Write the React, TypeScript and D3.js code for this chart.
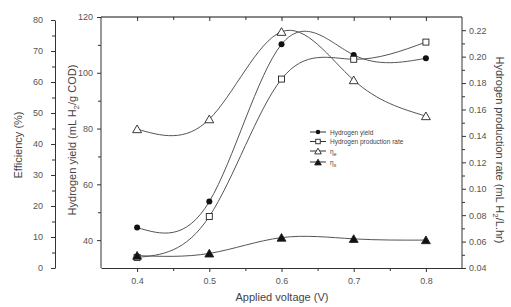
import * as d3 from "d3";
import { useEffect, useRef } from "react";

// applied voltage (V)
const voltages = [0.4, 0.5, 0.6, 0.7, 0.8];
// hydrogen yield (mL H2/g COD)
const hydrogenYield = [44.5, 53.8, 110.2, 106.4, 105.2];
// hydrogen production rate (mL H2/L.hr)
const productionRate = [0.048, 0.079, 0.183, 0.198, 0.211];
// efficiencies (%)
const etaE = [44.8, 48, 76.2, 60.6, 49];
const etaS = [4.0, 4.7, 9.8, 9.4, 9.0];

const xTicks = [0.4, 0.5, 0.6, 0.7, 0.8];
const effTicks = [0, 10, 20, 30, 40, 50, 60, 70, 80];
const yieldTicks = [40, 60, 80, 100, 120];
const rateTicks = [0.04, 0.06, 0.08, 0.1, 0.12, 0.14, 0.16, 0.18, 0.2, 0.22];

const FONT = "'Liberation Sans', Arial, sans-serif";

export default function App() {
  const svgRef = useRef<SVGSVGElement>(null);

  useEffect(() => {
    if (!svgRef.current) return;
    const svg = d3.select(svgRef.current);
    svg.selectAll("*").remove();

    const left = 101;
    const right = 462;
    const top = 17;
    const bottom = 268;

    const x = d3.scaleLinear().domain([0.35, 0.85]).range([left, right]);
    const yEff = d3.scaleLinear().domain([0, 80]).range([bottom, 20]);
    const yYield = d3.scaleLinear().domain([30, 120]).range([bottom, top]);
    const yRate = d3.scaleLinear().domain([0.04, 0.23]).range([bottom, top]);

    const tickColor = "#333";
    const labelColor = "#555";

    const style = (g: d3.Selection<SVGGElement, unknown, null, undefined>) => {
      g.selectAll("path").attr("stroke", tickColor);
      g.selectAll("line").attr("stroke", tickColor);
      g.selectAll("text")
        .attr("fill", labelColor)
        .style("font-family", FONT)
        .style("font-size", "9px");
    };

    // minor ticks
    const minor = (
      g: d3.Selection<SVGGElement, unknown, null, undefined>,
      axis: d3.Axis<d3.NumberValue>,
    ) => {
      g.call(axis);
      g.selectAll("path").remove();
      g.selectAll("text").remove();
      g.selectAll("line").attr("stroke", tickColor);
    };

    // bottom axis
    const gx = svg.append("g").attr("transform", `translate(0,${bottom})`);
    gx.call(
      d3.axisBottom(x).tickValues(xTicks).tickSize(4).tickSizeOuter(0).tickPadding(6).tickFormat(d3.format(".1f")),
    );
    style(gx);
    minor(
      svg.append("g").attr("transform", `translate(0,${bottom})`),
      d3.axisBottom(x).tickValues([0.45, 0.55, 0.65, 0.75]).tickSize(3).tickSizeOuter(0),
    );

    // top frame with inward ticks
    const gt = svg.append("g").attr("transform", `translate(0,${top})`);
    gt.call(d3.axisBottom(x).tickValues(xTicks).tickSize(4).tickSizeOuter(0).tickFormat(() => ""));
    gt.selectAll("line").attr("stroke", tickColor);
    gt.select("path").remove();
    minor(
      svg.append("g").attr("transform", `translate(0,${top})`),
      d3.axisBottom(x).tickValues([0.45, 0.55, 0.65, 0.75]).tickSize(3).tickSizeOuter(0),
    );
    svg.append("line").attr("x1", left).attr("x2", right).attr("y1", top).attr("y2", top).attr("stroke", "#111");

    // efficiency axis
    const ge = svg.append("g").attr("transform", "translate(55,0)");
    ge.call(d3.axisLeft(yEff).tickValues(effTicks).tickSize(4).tickSizeOuter(0).tickPadding(8));
    style(ge);
    minor(
      svg.append("g").attr("transform", "translate(55,0)"),
      d3.axisLeft(yEff).tickValues(d3.range(5, 80, 10)).tickSize(3).tickSizeOuter(0),
    );

    // yield axis
    const gy = svg.append("g").attr("transform", `translate(${left},0)`);
    gy.call(d3.axisLeft(yYield).tickValues(yieldTicks).tickSize(4).tickSizeOuter(0).tickPadding(4));
    style(gy);
    gy.select("path").attr("d", `M0,${top}V${bottom}`);
    minor(
      svg.append("g").attr("transform", `translate(${left},0)`),
      d3.axisLeft(yYield).tickValues([50, 70, 90, 110]).tickSize(3).tickSizeOuter(0),
    );

    // rate axis
    const gr = svg.append("g").attr("transform", `translate(${right},0)`);
    gr.call(
      d3.axisRight(yRate).tickValues(rateTicks).tickSize(4).tickSizeOuter(0).tickPadding(3).tickFormat(d3.format(".2f")),
    );
    style(gr);
    gr.select("path").attr("d", `M0,${top}V${bottom}`);
    minor(
      svg.append("g").attr("transform", `translate(${right},0)`),
      d3.axisRight(yRate).tickValues(d3.range(0.05, 0.23, 0.02)).tickSize(3).tickSizeOuter(0),
    );

    // axis titles
    const title = (t: d3.Selection<SVGTextElement, unknown, null, undefined>) =>
      t.attr("fill", "#444").style("font-family", FONT).style("font-size", "11px").attr("text-anchor", "middle");

    svg.append("text").attr("transform", "translate(22,145) rotate(-90)").call(title).text("Efficiency (%)");
    const ty = svg.append("text").attr("transform", "translate(76,140) rotate(-90)").call(title);
    ty.append("tspan").text("Hydrogen yield (mL H");
    ty.append("tspan").attr("dy", 3).style("font-size", "8px").text("2");
    ty.append("tspan").attr("dy", -3).text("/g COD)");
    const tr = svg.append("text").attr("transform", "translate(496,150) rotate(90)").call(title);
    tr.append("tspan").text("Hydrogen production rate (mL H");
    tr.append("tspan").attr("dy", 3).style("font-size", "8px").text("2");
    tr.append("tspan").attr("dy", -3).text("/L.hr)");
    svg.append("text").attr("x", 282).attr("y", 301).call(title).text("Applied voltage (V)");

    // curves
    const series = [
      { name: "Hydrogen yield", values: hydrogenYield, y: yYield, marker: "circle" },
      { name: "Hydrogen production rate", values: productionRate, y: yRate, marker: "square" },
      { name: "e", values: etaE, y: yEff, marker: "triOpen" },
      { name: "s", values: etaS, y: yEff, marker: "triFilled" },
    ];

    const drawMarker = (
      g: d3.Selection<SVGGElement, unknown, null, undefined>,
      kind: string,
      cx: number,
      cy: number,
      k = 1,
    ) => {
      if (kind === "circle") {
        g.append("circle").attr("cx", cx).attr("cy", cy).attr("r", 3 * k).attr("fill", "#111");
      } else if (kind === "square") {
        g.append("rect")
          .attr("x", cx - 3 * k)
          .attr("y", cy - 3 * k)
          .attr("width", 6 * k)
          .attr("height", 6 * k)
          .attr("fill", "#fff")
          .attr("stroke", "#222")
          .attr("stroke-width", 0.9);
      } else {
        g.append("path")
          .attr("d", d3.symbol(d3.symbolTriangle, 34 * k * k)())
          .attr("transform", `translate(${cx},${cy + 1})`)
          .attr("fill", kind === "triFilled" ? "#111" : "#fff")
          .attr("stroke", "#222")
          .attr("stroke-width", 0.9);
      }
    };

    series.forEach((s) => {
      const line = d3
        .line<number>()
        .x((d, i) => x(voltages[i]))
        .y((d) => s.y(d))
        .curve(d3.curveNatural);
      svg
        .append("path")
        .datum(s.values)
        .attr("d", line)
        .attr("fill", "none")
        .attr("stroke", "#555")
        .attr("stroke-width", 1);
    });
    series.forEach((s) => {
      const g = svg.append("g");
      s.values.forEach((v, i) => drawMarker(g, s.marker, x(voltages[i]), s.y(v)));
    });

    // legend
    const lg = svg.append("g");
    const legendY = [132, 141.5, 151, 162];
    series.forEach((s, i) => {
      const yy = legendY[i];
      lg.append("line").attr("x1", 310).attr("x2", 326).attr("y1", yy).attr("y2", yy).attr("stroke", "#333");
      drawMarker(lg, s.marker, 318, yy, 0.75);
      const t = lg
        .append("text")
        .attr("x", 330)
        .attr("y", yy + 2.5)
        .attr("fill", "#444")
        .style("font-family", FONT)
        .style("font-size", "6.5px");
      if (i < 2) {
        t.text(s.name);
      } else {
        t.append("tspan").text("η");
        t.append("tspan").attr("dy", 2).style("font-size", "5px").text(s.name);
      }
    });
  }, []);

  return (
    <svg
      ref={svgRef}
      width={511}
      height={307}
      style={{ position: "absolute", left: 0, top: 0, background: "#fff" }}
    />
  );
}
